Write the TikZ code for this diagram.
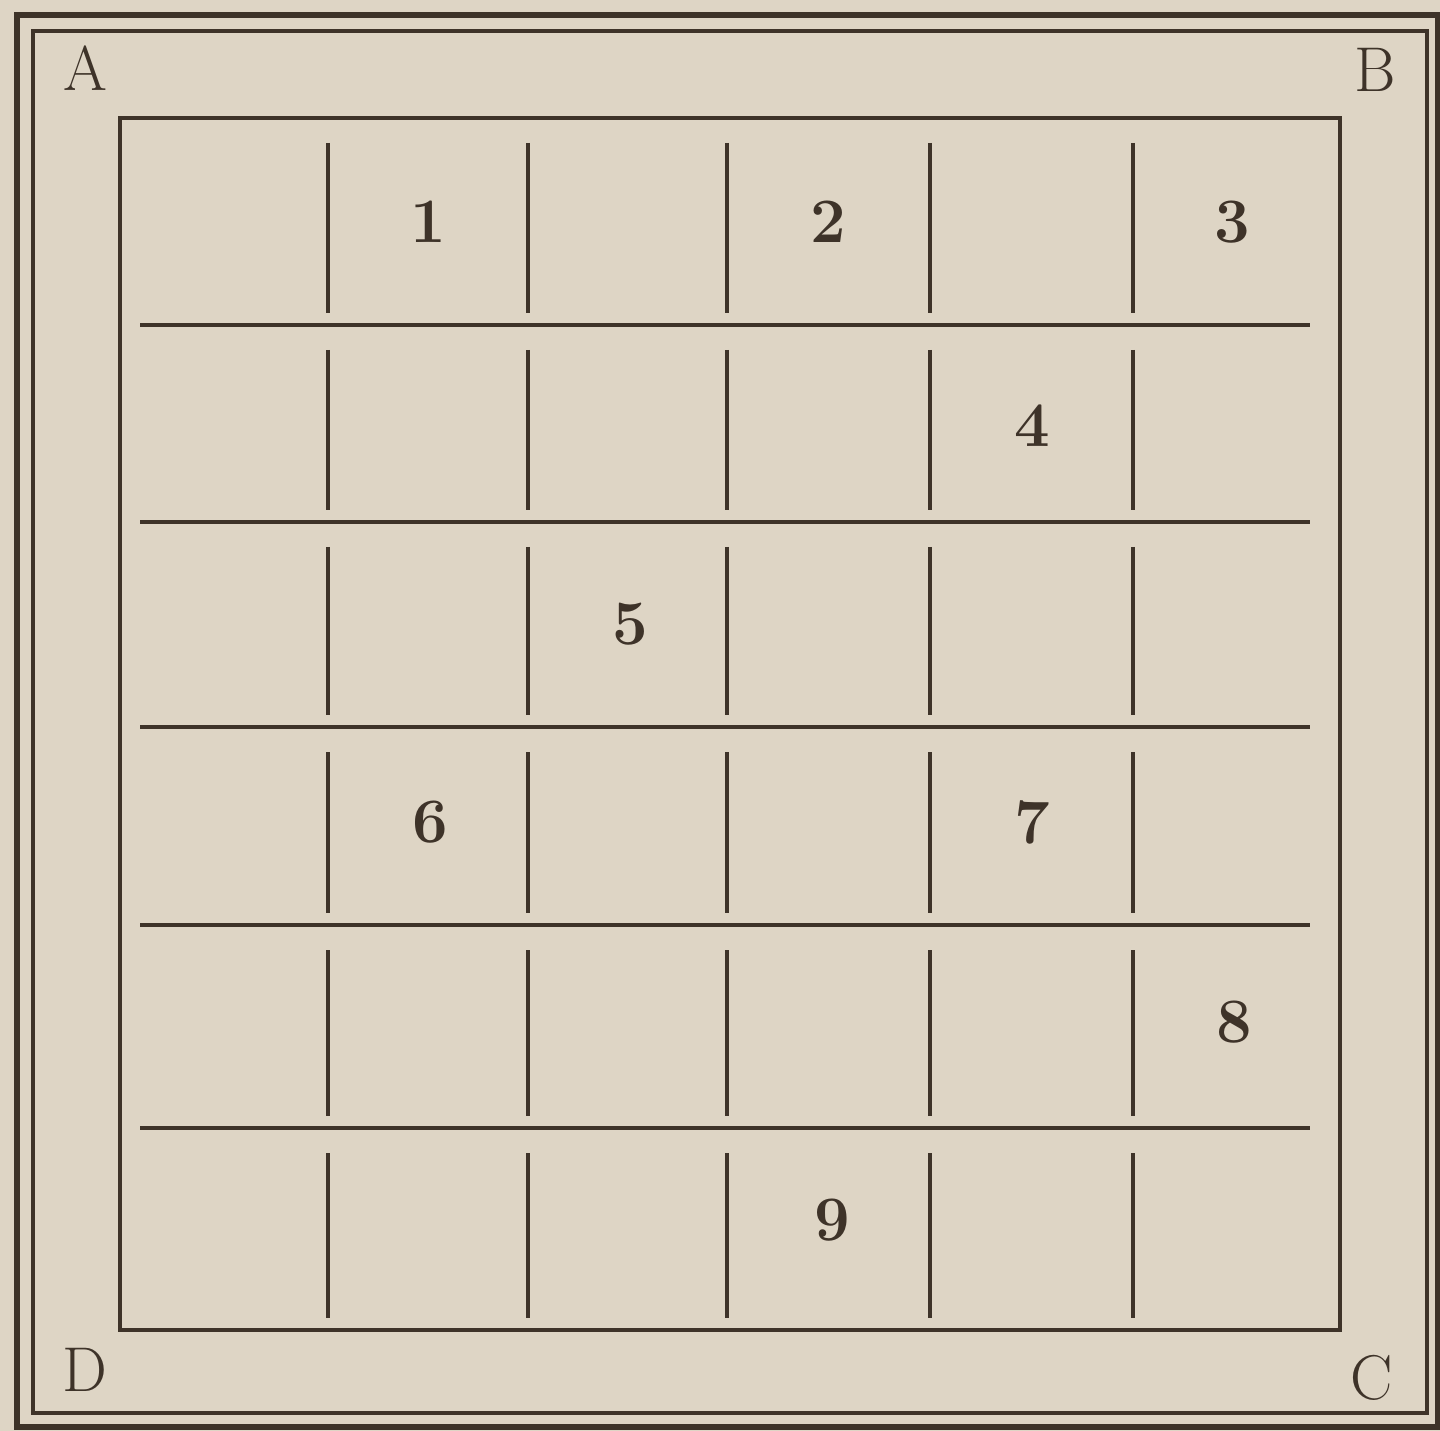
\documentclass[tikz,border=0pt]{standalone}
\usepackage{tikz}
\usetikzlibrary{positioning}
\definecolor{PaperBeige}{HTML}{DED5C5}
\definecolor{InkBrown}{HTML}{3E3329}
\tikzset{
    % double frame round the board
    frame line/.style={
        draw=InkBrown,
        line width=1.1pt
    },
    frame thick/.style={
        frame line,
        line width=1.6pt
    },
    % lines of the board
    grid line/.style={
        draw=InkBrown,
        line width=0.9pt
    },
    cell number/.style={
        text=InkBrown,
        font=\fontsize{18}{20}\selectfont\bfseries
    },
    corner label/.style={
        text=InkBrown,
        font=\fontsize{18}{20}\selectfont
    }
}

\begin{document}
\begin{tikzpicture}[x=0.01cm, y=-0.01cm]
    \fill[PaperBeige] (0,0) rectangle (1440,1431);
    \useasboundingbox (0,0) rectangle (1440,1431);

    % frame
    \draw[frame thick] (17,15) rectangle (1438,1427);
    \draw[frame line] (33,31) rectangle (1427,1413);
    \draw[frame line] (120,118) rectangle (1340,1330);

    % rows
    \foreach \y in {325,522,727,925,1128}
        \draw[grid line] (140,\y) -- (1310,\y);

    % column pieces in each row
    \foreach \top/\bot in {118/325,325/522,522/727,727/925,925/1128,1128/1330}
        \foreach \x in {328,528,727,930,1133}
            \draw[grid line] (\x,\top+25) -- (\x,\bot-12);

    % numbers
    \node[cell number] (n1) at (428,222) {1};
    \node[cell number] (n2) at (828,222) {2};
    \node[cell number] (n3) at (1232,222) {3};
    \node[cell number] (n4) at (1032,426) {4};
    \node[cell number] (n5) at (630,624) {5};
    \node[cell number] (n6) at (430,822) {6};
    \node[cell number] (n7) at (1032,822) {7};
    \node[cell number] (n8) at (1234,1022) {8};
    \node[cell number] (n9) at (832,1220) {9};

    % corners
    \node[corner label] (cA) at (85,68) {A};
    \node[corner label] (cB) at (1375,70) {B};
    \node[corner label] (cC) at (1372,1378) {C};
    \node[corner label] (cD) at (85,1370) {D};
\end{tikzpicture}
\end{document}
